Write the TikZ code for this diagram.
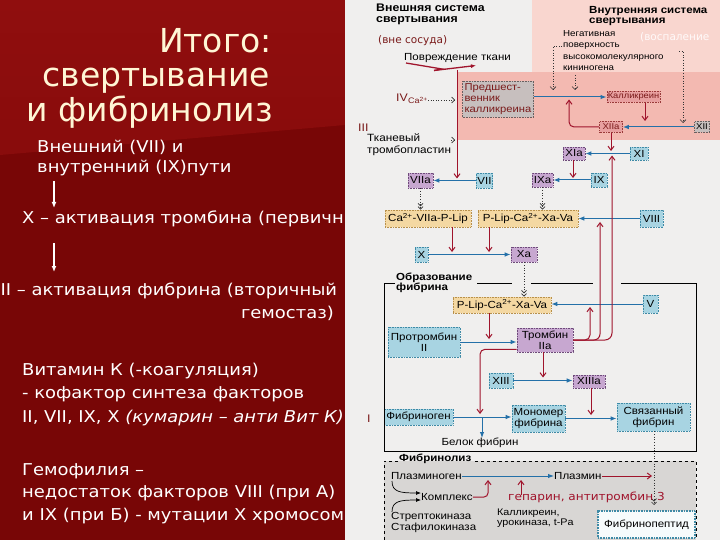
\documentclass[tikz,border=0pt]{standalone}
\usepackage{fontspec}
\setmainfont{DejaVu Sans}
\newfontfamily\wide[FakeStretch=1.1]{DejaVu Sans}
\newfontfamily\arial[FakeStretch=1.12]{Liberation Sans}
\newcommand\dfont[2]{\arial\fontsize{#1}{#2}\selectfont}
\usetikzlibrary{arrows.meta}
\definecolor{bgred}{HTML}{780606}
\definecolor{bgredtop}{HTML}{900E0E}
\definecolor{cream}{HTML}{FFF6D5}
\definecolor{panel}{HTML}{F0EFEE}
\definecolor{pinkA}{HTML}{F9D6CF}
\definecolor{pinkB}{HTML}{F3B9B1}
\definecolor{fgray}{HTML}{D8D6D4}
\definecolor{bfill}{HTML}{A8D4E2}
\definecolor{bdraw}{HTML}{3E8AA6}
\definecolor{pfill}{HTML}{C7A7D0}
\definecolor{pdraw}{HTML}{6E4A7A}
\definecolor{yfill}{HTML}{F4D8A2}
\definecolor{ydraw}{HTML}{B8904A}
\definecolor{gfill}{HTML}{C7BFBE}
\definecolor{gdraw}{HTML}{6A6060}
\definecolor{kfill}{HTML}{E8A0A0}
\definecolor{kdraw}{HTML}{9A3A3A}
\definecolor{rline}{HTML}{A0142C}
\definecolor{bline}{HTML}{2470A8}
\definecolor{maroon}{HTML}{7A1A1A}
\tikzset{
 bx/.style={draw, line width=0.6pt, densely dotted, inner sep=1pt, font=\dfont{10.3}{11}, align=center},
 bb/.style={bx, fill=bfill, draw=bdraw},
 pb/.style={bx, fill=pfill, draw=pdraw},
 yb/.style={bx, fill=yfill, draw=ydraw},
 gb/.style={bx, fill=gfill, draw=gdraw},
 kb/.style={bx, fill=kfill, draw=kdraw},
 barr/.style={draw=bline, line width=1pt, -{Latex[length=6pt,width=4.5pt]}},
 rarr/.style={draw=rline, line width=1pt, -{Straight Barb[length=4pt,width=6pt]}},
 darr/.style={draw=black!80, line width=0.7pt, dotted, -{Straight Barb[length=2.5pt,width=5pt] Straight Barb[length=2.5pt,width=5pt]}},
 sarr/.style={draw=black!80, line width=0.6pt, dotted, -{Straight Barb[length=3pt,width=6pt]}},
 lt/.style={anchor=base west, inner sep=0pt, text=white, font=\wide\fontsize{16.3}{19}\selectfont},
 tt/.style={inner sep=0pt, anchor=base east, text=cream, font=\fontsize{33}{38}\selectfont},
 dt/.style={inner sep=0pt, font=\dfont{10.3}{11}, align=left},
 hd/.style={inner sep=0pt, font=\arial\bfseries\fontsize{11}{10.5}\selectfont, align=left},
}
\begin{document}
\begin{tikzpicture}[x=1pt,y=-1pt]
\useasboundingbox (0,0) rectangle (720,540);
% ---------------- left panel ----------------
\begin{scope}
\clip (0,0) rectangle (345,540);
\fill[bgred] (0,0) rectangle (345,540);
\shade[top color=bgredtop, bottom color=bgredtop!70!bgred] (0,0) -- (345,0) -- (345,125) -- (0,155) -- cycle;
\node[tt] (t1) at (272,53) {Итого:};
\node[tt] (t2) at (270,87) {свертывание};
\node[tt] (t3) at (273,122) {и фибринолиз};
\node[lt] (l1) at (37,152.5) {Внешний (VII) и};
\node[lt] (l2) at (37,172.5) {внутренний (IX)пути};
\coordinate (a1s) at (54,181); \coordinate (a1e) at (54,208);
\draw[white, line width=1.2pt, -{Latex[length=6pt,width=5pt]}] (a1s) -- (a1e);
\node[lt] (l3) at (22,223.5) {X – активация тромбина (первичн};
\coordinate (a2s) at (54,243); \coordinate (a2e) at (54,272);
\draw[white, line width=1.2pt, -{Latex[length=6pt,width=5pt]}] (a2s) -- (a2e);
\node[lt] (l4) at (0.5,295.5) {II – активация фибрина (вторичный};
\node[lt, anchor=base east] (l5) at (334,318.5) {гемостаз)};
\node[lt] (l6) at (22,375.5) {Витамин К (-коагуляция)};
\node[lt] (l7) at (22,398.5) {- кофактор синтеза факторов};
\node[lt] (l8) at (22,422.5) {II, VII, IX, X \textit{(кумарин – анти Вит К)}};
\node[lt] (l9) at (22,475.5) {Гемофилия –};
\node[lt] (l10) at (22,497.5) {недостаток факторов VIII (при А)};
\node[lt] (l11) at (22,520.5) {и IX (при Б) - мутации X хромосом};
\end{scope}
% ---------------- right panel ----------------
\fill[panel] (345,0) rectangle (720,540);
\fill[pinkA] (532,0) rectangle (720,72);
\fill[pinkB] (458,72) rectangle (720,140);
\node[hd, anchor=north west] (h1) at (376,4) {Внешняя система\\свертывания};
\node[hd, anchor=north west, font=\arial\bfseries\fontsize{10.3}{10.5}\selectfont] (h2) at (589,6) {Внутренняя система\\свертывания};
\node[inner sep=0pt, anchor=west, text=maroon, font=\fontsize{10.5}{12}\selectfont] (vne) at (378,41) {(вне сосуда)};
\node[inner sep=0pt, anchor=west, text=white!92!pink, font=\fontsize{10.5}{12}\selectfont] (vos) at (640,37) {(воспаление};
\node[dt, anchor=west] (pov) at (404,58) {Повреждение ткани};
\draw[rline, line width=1.3pt] (406,63) -- (442,69) -- (434,70.5);
\coordinate (lz1) at (434,70.5); \coordinate (lz2) at (476,65.5);
\draw[rline, line width=1.3pt, -{Latex[length=5pt,width=4pt]}] (lz1) -- (lz2);
\node[dt, anchor=north west, font=\dfont{8.7}{11.5}] (neg) at (563,30) {Негативная\\поверхность\\высокомолекулярного\\кининогена};
% extrinsic left column
\node[inner sep=0pt, anchor=base west, text=maroon, font=\arial\fontsize{11}{12}\selectfont] (iv) at (396,102) {IV};
\node[inner sep=0pt, anchor=base west, text=maroon, font=\arial\fontsize{8}{9}\selectfont] (ca) at (408,104) {Ca\textsuperscript{2+}};
\node[inner sep=0pt, anchor=base west, text=maroon, font=\arial\fontsize{11}{12}\selectfont] (iii) at (358,132) {III};
\node[dt, anchor=north west, font=\dfont{10.5}{11.5}] (tkan) at (367,134) {Тканевый\\тромбопластин};
\node[inner sep=0pt, anchor=base west, text=maroon, font=\arial\fontsize{11}{12}\selectfont] (i1) at (367,422) {I};
% boxes
\node[gb, text=maroon, minimum width=71pt, minimum height=36pt, text width=67pt, align=left, font=\dfont{10}{11}] (pred) at (498,99.5) {Предшест-\\венник\\калликреина};
\node[kb, text=maroon, minimum width=53pt, minimum height=11pt, font=\dfont{8.3}{9}] (kall) at (633.5,97) {Калликреин};
\node[kb, text=maroon, minimum width=23pt, minimum height=11pt, font=\dfont{8.5}{9}] (xiia) at (611,127) {XIIa};
\node[gb, minimum width=15pt, minimum height=11pt, font=\dfont{8.5}{9}] (xii) at (702,127) {XII};
\node[pb, minimum width=22pt, minimum height=13pt] (xia) at (574,153.5) {XIa};
\node[bb, minimum width=18pt, minimum height=13pt] (xi) at (639,153.5) {XI};
\node[pb, minimum width=21pt, minimum height=14pt] (ixa) at (542.5,180) {IXa};
\node[bb, minimum width=16pt, minimum height=14pt] (ix) at (599,180) {IX};
\node[pb, minimum width=25pt, minimum height=15pt] (viia) at (420.5,180.5) {VIIa};
\node[bb, minimum width=15pt, minimum height=15pt] (vii) at (484.5,180.5) {VII};
\node[yb, minimum width=86pt, minimum height=17pt] (y1) at (428,218.5) {Ca\textsuperscript{2+}-VIIa-P-Lip};
\node[yb, minimum width=100pt, minimum height=17pt] (y2) at (528,218.5) {P-Lip-Ca\textsuperscript{2+}-Xa-Va};
\node[bb, minimum width=23pt, minimum height=17pt] (viii) at (651.5,218.5) {VIII};
\node[bb, minimum width=13pt, minimum height=15pt] (x) at (421.5,254.5) {X};
\node[pb, minimum width=26pt, minimum height=15pt] (xa) at (524,254.5) {Xa};
\node[yb, minimum width=98pt, minimum height=16pt] (y3) at (502,305) {P-Lip-Ca\textsuperscript{2+}-Xa-Va};
\node[bb, minimum width=15pt, minimum height=18pt] (v) at (650.5,304) {V};
\node[bb, minimum width=72pt, minimum height=30pt] (prot) at (424,342) {Протромбин\\II};
\node[pb, minimum width=56pt, minimum height=24pt] (thr) at (545,340) {Тромбин\\IIa};
\node[bb, minimum width=24pt, minimum height=15pt] (xiii) at (501,380.5) {XIII};
\node[pb, minimum width=32pt, minimum height=13pt] (xiiia) at (589,381.5) {XIIIa};
\node[bb, minimum width=69pt, minimum height=16pt] (fbg) at (418.5,417) {Фибриноген};
\node[bb, minimum width=53pt, minimum height=27pt] (mono) at (538.5,418.5) {Мономер\\фибрина};
\node[bb, minimum width=73pt, minimum height=28pt] (sv) at (653.5,417) {Связанный\\фибрин};
\node[dt] (belok) at (480,443) {Белок фибрин};
% fibrin frame
\node[hd, anchor=west, font=\arial\bfseries\fontsize{10.3}{10.5}\selectfont] (obr) at (396,283) {Образование\\фибрина};
\draw[black, line width=0.8pt] (395,283) -- (384,283) -- (384,451) -- (696,451) -- (696,283) -- (621,283);
\draw[black, line width=0.8pt] (477,283) -- (512,283);
\draw[black, line width=0.8pt] (531,283) -- (593,283);
% fibrinolysis
\fill[fgray] (384,461) rectangle (696,540);
\draw[black, line width=0.8pt, dashed] (398,461) -- (384,461) -- (384,540);
\draw[black, line width=0.8pt, dashed] (475,461) -- (696,461) -- (696,540);
\node[hd, anchor=west, font=\arial\bfseries\fontsize{10.3}{10.5}\selectfont] (fl) at (399,459) {Фибринолиз};
\node[dt, anchor=west] (pgn) at (391,476) {Плазминоген};
\node[dt, anchor=west] (pln) at (554,476) {Плазмин};
\node[dt, anchor=west] (kom) at (421,497) {Комплекс};
\node[dt, anchor=west, font=\dfont{10.3}{11.5}] (strep) at (391,522.5) {Стрептокиназа\\Стафилокиназа};
\node[dt, anchor=west, font=\dfont{9.6}{10.5}] (kur) at (497,518) {Калликреин,\\урокиназа, t-Pa};
\node[bx, draw=bdraw, fill=white!90!bfill, line width=1.2pt, minimum width=97pt, minimum height=27pt] (fpep) at (646.5,524.5) {Фибринопептид};
% ---------------- connectors ----------------
\coordinate (rtop) at (457,70); \coordinate (rbot) at (457,178.5);
\draw[rarr] (rtop) -- (rbot);
\coordinate (ive) at (455,100);
\draw[sarr] (ca.east |- ive) -- (ive);
\coordinate (tke) at (455,140);
\draw[sarr] (tkan.north east |- tke) -- (tke);
\coordinate (n1) at (553,90); \coordinate (n2) at (575,90); \coordinate (n3) at (683,123);
\draw[sarr] (562,46) -- (553,46) -- (n1);
\draw[sarr] (575,75) -- (n2);
\draw[sarr] (679,51) -- (683,51) -- (n3);
\draw[barr] (kall.west -| pred.east) -- (kall.west);
\coordinate (kd) at (645,121);
\draw[rarr] (kall.south -| kd) -- (kd);
\coordinate (loop) at (569,99.5);
\draw[rarr, rounded corners=5pt] (xiia.west) -| (loop);
\draw[barr] (xii.west) -- (xiia.east);
\coordinate (c1) at (611,151);
\draw[rarr] (xiia.south) -- (c1);
\draw[barr] (xi.west) -- (xia.east);
\coordinate (c2) at (573,178);
\draw[rarr] (xia.south -| c2) -- (c2);
\draw[barr] (ix.west) -- (ixa.east);
\draw[barr] (vii.west) -- (viia.east);
\draw[darr] (viia.south) -- (viia.south |- y1.north);
\draw[darr] (ixa.south) -- (ixa.south |- y2.north);
\draw[barr] (viii.west) -- (viii.west -| y2.east);
\coordinate (c3) at (452,252); \coordinate (c4) at (489,252);
\draw[rarr] (y1.south -| c3) -- (c3);
\draw[rarr] (y2.south -| c4) -- (c4);
\draw[barr] (x.east) -- (xa.west);
\draw[darr] (xa.south) -- (xa.south |- y3.north);
\draw[barr] (v.west) -- (v.west -| y3.east);
\coordinate (c5) at (489,339);
\draw[rarr] (y3.south -| c5) -- (c5);
\draw[barr] (prot.east) -- (prot.east -| thr.west);
\coordinate (ta) at (590,307); \coordinate (tb) at (600,222); \coordinate (tc) at (612,155.5);
\draw[rarr, rounded corners=5pt] (thr.east) -| (ta);
\draw[rarr, rounded corners=6pt] (thr.east) -| (tb);
\draw[rarr, rounded corners=7pt] (thr.east) -| (tc);
\coordinate (c6) at (480,414);
\draw[rarr, rounded corners=5pt] ([yshift=3pt]thr.south west) -| (c6);
\coordinate (c7) at (543,377.5);
\draw[rarr] (thr.south -| c7) -- (c7);
\draw[barr] (xiii.east) -- (xiii.east -| xiiia.west);
\coordinate (c8) at (591,415);
\draw[rarr] (xiiia.south -| c8) -- (c8);
\draw[barr] (fbg.east) -- (fbg.east -| mono.west);
\coordinate (bd1) at (482,417); \coordinate (bd2) at (482,438);
\draw[barr] (bd1) -- (bd2);
\draw[barr] (mono.east) -- (mono.east -| sv.west);
\coordinate (sd) at (654,505);
\draw[darr] (sv.south -| sd) -- (sd);
\draw[barr] (pgn.east) -- (pln.west);
\coordinate (pe) at (652,476);
\draw[rarr] (pln.east) -- (pe);
\coordinate (k1) at (488,480);
\draw[rarr, rounded corners=4pt] (kom.east) -| (k1);
\coordinate (k2a) at (521,495); \coordinate (k2b) at (521,480);
\draw[rarr] (k2a) -- (k2b);
\draw[black, line width=0.7pt, -{Latex[length=5pt,width=4pt]}] (392,481) .. controls (392,492) and (400,493) .. (kom.west |- 0,493);
\draw[black, line width=0.7pt, -{Latex[length=5pt,width=4pt]}] (392,512) .. controls (392,501) and (400,500) .. (kom.west |- 0,500);
\node[inner sep=0pt, anchor=west, text=rline, font=\wide\fontsize{11}{12}\selectfont] (gep) at (508,497) {гепарин, антитромбин 3};
\end{tikzpicture}
\end{document}
